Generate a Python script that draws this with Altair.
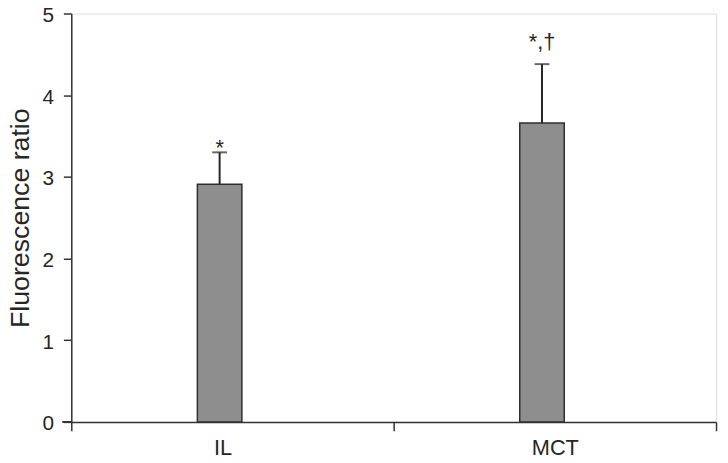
import altair as alt
import pandas as pd

groups = ["IL", "MCT"]
means = [2.91, 3.66]
errors = [0.39, 0.72]
sig_labels = ["*", "*,\u2020"]

df = pd.DataFrame({
    "group": groups,
    "mean": means,
    "upper": [m + e for m, e in zip(means, errors)],
    "sig": sig_labels,
})

FONT = "Liberation Sans"
DARK = "#262626"
AX = "#333333"
W, H = 652, 413
XOFF = -13

xscale = alt.Scale(domain=groups, paddingInner=0, paddingOuter=0)
x_axis = alt.Axis(
    title=None, labelAngle=0, tickBand="extent", tickSize=9,
    labelFontSize=22, labelPadding=7, labelColor=DARK, labelFont=FONT,
    domainColor=AX, tickColor=AX, domainWidth=1.5, tickWidth=1.5,
    labelOffset={"condition": {"test": "datum.value == 'IL'", "value": -10}, "value": 0},
)
y_axis = alt.Axis(
    title="Fluorescence ratio", values=[0, 1, 2, 3, 4, 5], format="d", tickSize=8,
    labelFontSize=21, labelPadding=10, labelOffset=2, labelColor=DARK, labelFont=FONT,
    titleFontSize=27, titleFontWeight="normal", titleColor=DARK, titleFont=FONT,
    titleAngle=270, titleBaseline="alphabetic", titleAlign="center",
    titleX=-43, titleY=H / 2,
    domainColor=AX, tickColor=AX, domainWidth=1.5, tickWidth=1.5,
    grid=False,
)

base = alt.Chart(df)
x_enc = alt.X("group:N", scale=xscale, axis=x_axis, sort=groups)
x_plain = alt.X("group:N", scale=xscale, sort=groups)
y_scale = alt.Scale(domain=[0, 5], nice=False)

bars = base.mark_bar(
    size=45, color="#8e8e8e", stroke="#2e2e2e", strokeWidth=1.5, xOffset=XOFF
).encode(
    x=x_enc,
    y=alt.Y("mean:Q", scale=y_scale, axis=y_axis),
)

err = base.mark_rule(color=DARK, strokeWidth=2, xOffset=XOFF).encode(
    x=x_plain,
    y=alt.Y("mean:Q", scale=y_scale),
    y2="upper:Q",
)

cap = base.mark_tick(color=DARK, size=15, thickness=2, xOffset=XOFF).encode(
    x=x_plain,
    y=alt.Y("upper:Q", scale=y_scale),
)

txt_il = base.transform_filter(alt.datum.group == "IL").mark_text(
    font=FONT, fontSize=22, color=DARK, baseline="alphabetic", dy=3, xOffset=XOFF
).encode(
    x=x_plain,
    y=alt.Y("upper:Q", scale=y_scale),
    text="sig:N",
)

txt_mct = base.transform_filter(alt.datum.group == "MCT").mark_text(
    font=FONT, fontSize=22, color=DARK, baseline="alphabetic", dy=-15, xOffset=XOFF
).encode(
    x=x_plain,
    y=alt.Y("upper:Q", scale=y_scale),
    text="sig:N",
)

# short extension of the x axis line to the left of the y axis, as in the reference
axis_ext = base.mark_rule(color=AX, strokeWidth=1.5).encode(
    x=alt.value(-9), x2=alt.value(0), y=alt.value(H)
)

chart = alt.layer(bars, err, cap, txt_il, txt_mct, axis_ext).properties(
    width=W, height=H,
    autosize=alt.AutoSizeParams(type="none"),
    padding={"left": 64, "top": 3, "right": 4, "bottom": 38},
).configure_view(stroke=None).configure(background="white")

chart.save("out.html", embed_options={"renderer": "svg", "actions": False})
